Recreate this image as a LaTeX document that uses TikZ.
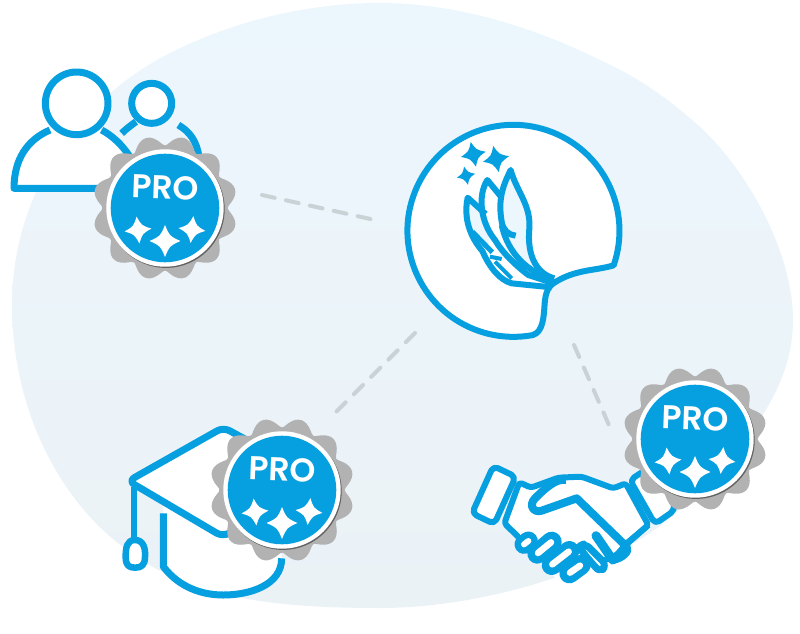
\documentclass[tikz,border=0pt]{standalone}
\usepackage{fontspec}
\newfontfamily\profont{Poppins SemiBold}
\definecolor{bl}{HTML}{069FE0}
\definecolor{gy}{HTML}{B2B2B2}
\definecolor{dsh}{HTML}{C9D3D5}
\definecolor{blobtop}{HTML}{ECF6FD}
\definecolor{blobbot}{HTML}{EBF2F6}
\tikzset{
 icon/.style={draw=bl,line width=#1,line join=round,line cap=butt,fill=white},
 icon/.default=6.5pt,
 iconl/.style={draw=bl,line width=#1,line join=round,line cap=butt},
 iconl/.default=6.5pt,
 link/.style={draw=dsh,line width=4pt,line cap=round,dash pattern=on 13pt off 11.5pt},
 crop/.style 2 args={shift={(#1pt,-#2pt)},x=0.33333pt,y=-0.33333pt},
}
\newcommand{\fourstar}[6][bl]{%
 \fill[#1,shift={(#2,#3)},rotate=#6] (0,-#5) .. controls (0.3*#4,-0.3*#5) .. (#4,0) .. controls (0.3*#4,0.3*#5) .. (0,#5) .. controls (-0.3*#4,0.3*#5) .. (-#4,0) .. controls (-0.3*#4,-0.3*#5) .. cycle;}
\newcommand{\probadge}[3]{%
 \begin{scope}[shift={(#2,#3)}]
 \fill[gy] plot[smooth cycle,samples=145,domain=0:357.5,variable=\t] ({(60+12.5*sqrt(0.04+0.96*(0.5+0.5*cos(12*\t-180))))*cos(\t)},{(60+12.5*sqrt(0.04+0.96*(0.5+0.5*cos(12*\t-180))))*sin(\t)});
 \fill[black,opacity=.45] (1,1.2) circle[radius=58.7];
 \fill[white] (0,0) circle[radius=58.7];
 \fill[bl] (0,0) circle[radius=54.3];
 \node[text=white,inner sep=0,rotate=-2] (#1) at (0,-20.5) {\profont\fontsize{33}{33}\selectfont PRO};
 \fourstar[white]{-27}{22}{13.5}{13.5}{6}
 \fourstar[white]{27}{21.5}{13.5}{13.5}{-6}
 \fourstar[white]{0}{33}{15.5}{16}{0}
 \end{scope}}
\begin{document}
\begin{tikzpicture}[x=1pt,y=-1pt]
\useasboundingbox (0,0) rectangle (800,633);
\shade[top color=blobtop,bottom color=blobbot] (380,3) .. controls (460,3) and (540,30) .. (600,60) .. controls (640,78) and (670,100) .. (700,127) .. controls (745,168) and (793,250) .. (793,320) .. controls (793,400) and (730,460) .. (677,512) .. controls (620,565) and (490,608) .. (380,608) .. controls (280,608) and (190,600) .. (123,547) .. controls (60,500) and (12,410) .. (12,305) .. controls (12,200) and (70,110) .. (157,60) .. controls (220,25) and (300,3) .. (380,3) -- cycle;
% connectors
\coordinate (a1) at (262,195); \coordinate (a2) at (375,220);
\coordinate (b1) at (415,333); \coordinate (b2) at (335,413);
\coordinate (c1) at (574,345); \coordinate (c2) at (612,432);
\draw[link] (a1)--(a2);
\draw[link] (b1)--(b2);
\draw[link] (c1)--(c2);
% people
\begin{scope}[crop={0}{60}]
 \draw[iconl=7pt] (365,220) .. controls (380,205) and (395,195) .. (408,185);
 \draw[iconl=7pt] (535,195) .. controls (570,215) and (590,245) .. (597,290);
 \draw[icon=7pt] (455,130) circle[radius=60];
 \draw[icon=7pt] (150,210) .. controls (80,240) and (42,300) .. (42,385) -- (300,385) -- (420,385) .. controls (420,320) and (370,245) .. (305,210);
 \draw[icon=7pt] (230,130) circle[radius=94];
\end{scope}
% main icon
\begin{scope}[crop={395}{115}]
 \draw[icon=6pt] (656,451) arc[start angle=-19,end angle=278,radius=106pt] .. controls (440,662) and (445,620) .. (448,580) .. controls (450,540) and (455,520) .. (475,505) .. controls (540,462) and (600,468) .. (656,451) -- cycle;
 % light interiors
 \fill[blobtop] (347,165) .. controls (325,210) and (310,250) .. (320,320) .. controls (330,390) and (380,450) .. (450,485) .. controls (405,450) and (395,400) .. (403,340) .. controls (408,270) and (365,230) .. (347,165) -- cycle;
 \fill[blobtop] (217,250) .. controls (208,310) and (235,370) .. (285,410) -- (275,300) -- cycle;
 % right flame
 \draw[iconl=6pt,miter limit=20] (478,490) .. controls (430,478) and (395,430) .. (403,340) .. controls (408,270) and (365,230) .. (347,165) .. controls (325,210) and (308,250) .. (320,320) .. controls (324,345) and (340,360) .. (362,362);
 \draw[iconl=6pt] (320,330) .. controls (340,420) and (400,470) .. (472,495);
 % middle flame
 \draw[iconl=6pt] (318,245) -- (277,195) .. controls (248,240) and (255,320) .. (300,375) .. controls (320,410) and (360,450) .. (400,480) -- (470,503);
 % left flame
 \draw[iconl=6pt] (272,297) -- (218,248) .. controls (205,310) and (225,365) .. (262,408) .. controls (285,460) and (315,495) .. (350,505) -- (470,517);
 \draw[iconl=5pt] (232,350) -- (292,412);
 \draw[iconl=4pt] (285,425) -- (320,432);
 \draw[iconl=4pt] (300,440) -- (350,490);
 \draw[iconl=4pt] (340,430) -- (390,460);
 \fourstar{235}{118}{38}{38}{12}
 \fourstar{303}{132}{40}{40}{12}
 \fourstar{213}{182}{28}{28}{12}
\end{scope}
% cap
\begin{scope}[crop={110}{415}]
 \fill[white] (160,295) -- (160,455) .. controls (210,520) and (280,540) .. (340,540) .. controls (420,540) and (515,510) .. (515,430) -- (515,250) -- (160,250) -- cycle;
 \draw[iconl=7pt] (160,295) -- (160,455) .. controls (210,520) and (280,540) .. (340,540) .. controls (420,540) and (515,510) .. (515,430);
 \draw[iconl=6.5pt] (72,215) -- (72,375);
 \draw[icon=6.5pt] (75,375) .. controls (100,375) and (107,400) .. (105,425) .. controls (105,450) and (95,458) .. (75,458) .. controls (55,458) and (47,450) .. (47,425) .. controls (47,400) and (50,375) .. (75,375) -- cycle;
 \draw[icon=7pt,rounded corners=7pt] (338,365) -- (55,198) -- (340,37) -- (640,200) -- cycle;
\end{scope}
% handshake
\begin{scope}[crop={460}{365}]
 \draw[icon=6pt,rounded corners=5pt] (510,345) -- (610,280) -- (645,435) -- (585,477) -- cycle;
 \draw[icon=6pt,rounded corners=5pt] (100,303) -- (167,335) -- (103,477) -- (36,445) -- cycle;
 % hand
 \draw[icon=6pt,rounded corners=3pt] (178,352) -- (213,368) -- (295,338) -- (365,335) -- (460,370) -- (497,355) -- (565,480) -- (500,535) -- (470,570) -- (400,600) -- (190,530) -- (133,475) -- cycle;
 \fill[white] (180,490) -- (340,490) -- (400,590) -- (300,650) -- (180,540) -- cycle;
 % thumb band
 \draw[iconl=8pt] (318,345) .. controls (290,340) and (260,365) .. (225,400) .. controls (205,420) and (220,445) .. (245,437) -- (350,400) -- (500,545) .. controls (510,560) and (485,580) .. (458,585);
 \draw[bl,line width=9pt,line cap=round] (408,512) -- (458,585);
 % little finger wrap
 \draw[icon=7pt,rounded corners=6pt] (355,545) -- (375,535) -- (440,600) .. controls (430,612) and (415,615) .. (400,600) -- cycle;
 \draw[iconl=6pt] (497,540) -- (565,480);
 \draw[bl,line width=19pt,line cap=round] (192,538) -- (205,528);
 \draw[white,line width=6pt,line cap=round] (192,538) -- (205,528);
 \draw[bl,line width=20pt,line cap=round] (232,566) -- (275,530);
 \draw[white,line width=6.5pt,line cap=round] (234,564) -- (273,532);
 \draw[bl,line width=20pt,line cap=round] (275,600) -- (328,558);
 \draw[white,line width=6.5pt,line cap=round] (277,598) -- (326,560);
 \draw[bl,line width=20pt,line cap=round] (328,625) -- (362,600);
 \draw[white,line width=6.5pt,line cap=round] (330,623) -- (360,602);
\end{scope}
\probadge{proa}{165}{208}
\probadge{prob}{282}{490}
\probadge{proc}{695}{439}
\end{tikzpicture}
\end{document}
